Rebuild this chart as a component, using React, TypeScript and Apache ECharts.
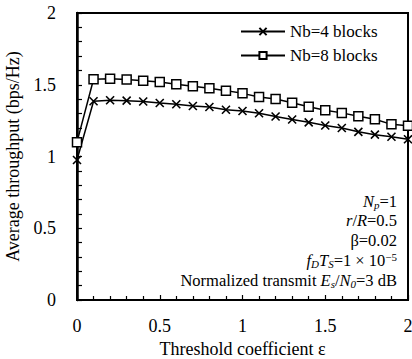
import React, { useEffect, useRef } from "react";
import * as echarts from "echarts";

const xValues = [0, 0.1, 0.2, 0.3, 0.4, 0.5, 0.6, 0.7, 0.8, 0.9, 1.0, 1.1, 1.2, 1.3, 1.4, 1.5, 1.6, 1.7, 1.8, 1.9, 2.0];
const nb4 = [0.976, 1.385, 1.392, 1.389, 1.383, 1.373, 1.364, 1.352, 1.345, 1.326, 1.317, 1.301, 1.279, 1.258, 1.238, 1.216, 1.199, 1.172, 1.152, 1.138, 1.12];
const nb8 = [1.10, 1.538, 1.542, 1.536, 1.528, 1.519, 1.503, 1.489, 1.475, 1.459, 1.44, 1.415, 1.401, 1.374, 1.347, 1.323, 1.304, 1.281, 1.26, 1.224, 1.214];
const seriesNames = ["Nb=4 blocks", "Nb=8 blocks"];
const annotationLines = [
  "{i|N}{s|p}{n|=1}",
  "{i|r}{n|/}{i|R}{n|=0.5}",
  "{n|β=0.02}",
  "{i|f}{s|D}{i|T}{s|S}{n|=1 × 10}{u|−5}",
  "{n|Normalized transmit }{i|E}{s|s}{n|/}{i|N}{s|0}{n|=3 dB}",
];
const yTicks = [0, 0.5, 1, 1.5, 2];
const xTicks = [0, 0.5, 1, 1.5, 2];

const FONT = "Liberation Serif";

const richStyles = (size: number, lh: number) => ({
  n: { fontFamily: FONT, fontSize: size, color: "#000", lineHeight: lh },
  t: { fontFamily: FONT, fontSize: size, color: "#000", lineHeight: lh },
  i: { fontFamily: FONT, fontSize: size, fontStyle: "italic", color: "#000", lineHeight: lh },
  s: { fontFamily: FONT, fontSize: Math.round(size * 0.65), fontStyle: "italic", color: "#000", verticalAlign: "bottom", lineHeight: lh },
  u: { fontFamily: FONT, fontSize: Math.round(size * 0.65), color: "#000", verticalAlign: "top", lineHeight: lh },
});

export default function App() {
  const ref = useRef<HTMLDivElement>(null);
  useEffect(() => {
    if (!ref.current) return;
    const chart = echarts.init(ref.current, null, { renderer: "svg" });
    const annY0 = 201;
    const annStep = 19.8;
    chart.setOption({
      animation: false,
      grid: {
        left: 77, right: 4, top: 13, bottom: 59,
        show: true, borderColor: "#000", borderWidth: 2, backgroundColor: "transparent",
        containLabel: false, outerBoundsMode: "none",
      },
      legend: {
        orient: "vertical",
        left: 240,
        top: 22,
        padding: 0,
        itemWidth: 44,
        itemHeight: 9,
        itemGap: 5,
        data: seriesNames,
        textStyle: { fontFamily: FONT, fontSize: 17, color: "#000", lineHeight: 19 },
      },
      xAxis: {
        type: "value",
        min: 0,
        max: 2,
        interval: 0.5,
        name: "Threshold coefficient ε",
        nameLocation: "middle",
        nameGap: 35,
        nameTextStyle: { fontFamily: FONT, fontSize: 18, color: "#000" },
        axisLine: { lineStyle: { color: "#000", width: 2 } },
        axisTick: { inside: true, length: 5, lineStyle: { color: "#000", width: 1.2 } },
        minorTick: { show: true, splitNumber: 5, length: 4, lineStyle: { color: "#000", width: 1.2 } },
        splitLine: { show: false },
        axisLabel: {
          fontFamily: FONT,
          fontSize: 18,
          color: "#000",
          margin: 17,
          formatter: (v: number) => (xTicks.includes(v) ? String(v) : ""),
        },
      },
      yAxis: {
        type: "value",
        min: 0,
        max: 2,
        interval: 0.5,
        name: "Average throughput (bps/Hz)",
        nameLocation: "middle",
        nameGap: 55,
        nameTextStyle: { fontFamily: FONT, fontSize: 18, color: "#000" },
        axisLine: { lineStyle: { color: "#000", width: 2.5 } },
        axisTick: { inside: true, length: 5, lineStyle: { color: "#000", width: 1.2 } },
        minorTick: { show: true, splitNumber: 5, length: 5, lineStyle: { color: "#000", width: 1.2 } },
        splitLine: { show: false },
        axisLabel: {
          fontFamily: FONT,
          fontSize: 18,
          color: "#000",
          margin: 21,
          formatter: (v: number) => (yTicks.includes(v) ? String(v) : ""),
        },
      },
      series: [
        {
          name: seriesNames[0],
          type: "line",
          data: xValues.map((x, k) => [x, nb4[k]]),
          symbol: "path://M0,0L10,10M10,0L0,10",
          symbolSize: 8,
          lineStyle: { color: "#000", width: 1.5 },
          itemStyle: { color: "#000", borderColor: "#000", borderWidth: 1.6 },
          clip: false,
          z: 3,
        },
        {
          name: seriesNames[1],
          type: "line",
          data: xValues.map((x, k) => [x, nb8[k]]),
          symbol: "rect",
          symbolSize: 9,
          lineStyle: { color: "#000", width: 1.5 },
          itemStyle: { color: "#fff", borderColor: "#000", borderWidth: 1.5 },
          clip: false,
          z: 4,
        },
      ],
      graphic: annotationLines.map((line, k) => ({
        type: "text",
        x: 397,
        y: annY0 + k * annStep,
        style: {
          text: line,
          align: "right",
          verticalAlign: "middle",
          fontFamily: FONT,
          fontSize: 16.5,
          rich: richStyles(16.5, 18),
        },
      })),
    });
    return () => chart.dispose();
  }, []);
  return (
    <div ref={ref} style={{ width: 412, height: 359, position: "absolute", left: 0, top: 0, background: "#fff" }} />
  );
}
